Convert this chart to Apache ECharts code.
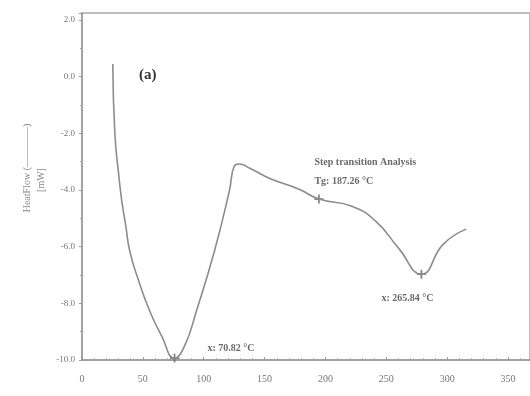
<!DOCTYPE html>
<html>
<head>
<meta charset="utf-8">
<script src="https://cdn.jsdelivr.net/npm/echarts@6/dist/echarts.min.js"></script>
<style>
  html, body { margin: 0; padding: 0; background: #fff; }
  #chart { width: 530px; height: 396px; }
</style>
</head>
<body>
<div id="chart"></div>
<script>
// DSC curve, temperature (°C) vs heat flow (mW)
const temps = [25.3, 27.0, 30.3, 32.7, 36.0, 39.2, 46.6, 55.6, 65.4, 76.0, 84.2, 94.0, 108.8, 121.0,
  125.1, 129.2, 137.4, 153.7, 178.3, 194.6, 221.6, 241.2, 260.0, 278.8, 296.8, 315.6];
const heatFlow = [0.45, -2.02, -3.51, -4.39, -5.27, -6.15, -7.21, -8.27, -9.15, -9.93, -9.51, -8.27, -6.15, -4.04,
  -3.15, -3.08, -3.22, -3.58, -3.97, -4.32, -4.57, -5.10, -6.05, -6.97, -5.91, -5.38];

// analysis points + their labels
const markTemps = [76.0, 194.6, 278.8];
const markFlow = [-9.93, -4.32, -6.97];
const markLabels = ['x: 70.82 °C', 'Step transition Analysis\nTg: 187.26 °C', 'x: 265.84 °C'];

const xTicks = [0, 50, 100, 150, 200, 250, 300, 350];
const yTicks = [2, 0, -2, -4, -6, -8, -10];

const serif = '"Liberation Serif", "DejaVu Serif", serif';
const plus = 'path://M4,0 L6,0 L6,4 L10,4 L10,6 L6,6 L6,10 L4,10 L4,6 L0,6 L0,4 L4,4 Z';

let chart = echarts.init(document.getElementById('chart'));

let curve = temps.map((t, i) => [t, heatFlow[i]]);
let offsets = [[33, -29], [-14, -27], [-40, 5]];
let marks = markTemps.map((t, i) => ({
  value: [t, markFlow[i]],
  label: {
    show: true,
    formatter: markLabels[i],
    position: i == 1 ? 'right' : 'bottom',
    offset: offsets[i],
    align: 'left',
    fontFamily: serif,
    fontSize: 10,
    fontWeight: 'bold',
    color: '#444',
    lineHeight: 19
  }
}));

let option = {
  animation: false,
  grid: {
    left: 82, right: -2, top: 13, bottom: 36,
    show: true, borderColor: '#aaa', borderWidth: 1.5
  },
  xAxis: {
    type: 'value',
    min: 0, max: 368, interval: 50,
    axisLine: { onZero: false, lineStyle: { color: '#999', width: 1.5 } },
    axisTick: { inside: true, length: 3, lineStyle: { color: '#999' } },
    minorTick: { show: true, splitNumber: 5, length: 2, lineStyle: { color: '#aaa' } },
    splitLine: { show: false },
    axisLabel: {
      showMaxLabel: false,
      color: '#777', fontFamily: serif, fontSize: 10, margin: 14,
      formatter: v => xTicks.indexOf(v) >= 0 ? String(v) : ''
    }
  },
  yAxis: {
    type: 'value',
    min: -10, max: 2.25, interval: 2,
    axisLine: { onZero: false, lineStyle: { color: '#999', width: 1.5 } },
    axisTick: { length: 3, lineStyle: { color: '#999' } },
    minorTick: { show: true, splitNumber: 2, length: 2, lineStyle: { color: '#aaa' } },
    splitLine: { show: false },
    axisLabel: {
      showMaxLabel: false,
      color: '#777', fontFamily: serif, fontSize: 9, margin: 7,
      formatter: v => yTicks.indexOf(v) >= 0 ? v.toFixed(1) : ''
    }
  },
  graphic: [
    {
      type: 'text', left: 139, top: 68,
      style: { text: '(a)', fontFamily: serif, fontSize: 15, fontWeight: 'bold', fill: '#333' }
    },
    {
      type: 'text', x: 27, y: 168, rotation: Math.PI / 2,
      style: {
        text: 'HeatFlow (————)', fontFamily: serif, fontSize: 10, fill: '#888',
        align: 'center', verticalAlign: 'middle'
      }
    },
    {
      type: 'text', x: 41, y: 180, rotation: Math.PI / 2,
      style: {
        text: '[mW]', fontFamily: serif, fontSize: 10, fill: '#888',
        align: 'center', verticalAlign: 'middle'
      }
    }
  ],
  series: [
    {
      type: 'line',
      data: curve,
      smooth: 0.5,
      showSymbol: false,
      lineStyle: { color: '#8c8c8c', width: 1.6 }
    },
    {
      type: 'scatter',
      data: marks,
      symbol: plus,
      symbolSize: 9,
      itemStyle: { color: '#666' }
    }
  ]
};
chart.setOption(option);
</script>
</body>
</html>
